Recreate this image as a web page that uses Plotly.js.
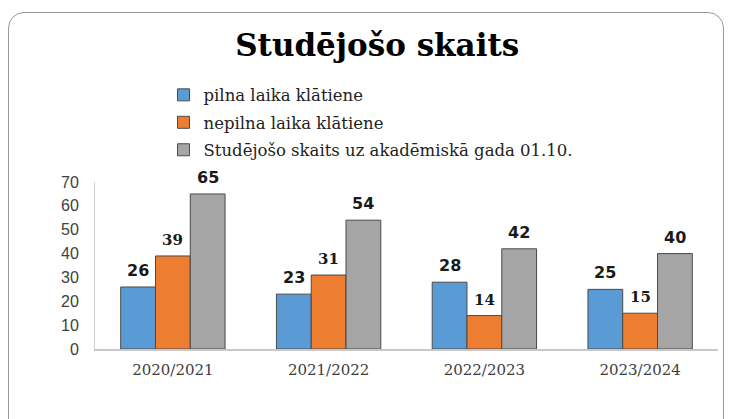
<!DOCTYPE html>
<html><head><meta charset="utf-8">
<script src="https://cdn.plot.ly/plotly-3.0.1.min.js"></script>
<style>
html,body{margin:0;padding:0;background:#fff;}
#frame{position:absolute;left:8px;top:12px;width:716px;height:440px;border:1.5px solid #9a9a9a;border-radius:16px;box-sizing:border-box;}
#chart{position:absolute;left:0;top:0;width:731px;height:419px;}
</style></head>
<body>
<div id="frame"></div>
<div id="chart"></div>
<script>
const categories = ["2020/2021","2021/2022","2022/2023","2023/2024"];
const seriesNames = ["pilna laika klātiene","nepilna laika klātiene","Studējošo skaits uz akadēmiskā gada 01.10."];
const fullTime = [26,23,28,25];
const partTime = [39,31,14,15];
const total = [65,54,42,40];
const yTicks = [0,10,20,30,40,50,60,70];

const colors = ["#5b9bd5","#ed7d31","#a5a5a5"];
const labelFonts = [
  {family:"DejaVu Sans", size:16, color:"#1a1a1a", weight:"bold"},
  {family:"DejaVu Serif", size:15, color:"#1a1a1a", weight:"bold"},
  {family:"DejaVu Sans", size:16, color:"#1a1a1a", weight:"bold"}
];
const allSeries = [fullTime, partTime, total];
const bargap = 0.33;
const barW = (1 - bargap) / 3;

const traces = allSeries.map((vals, i) => ({
  type: "bar",
  name: seriesNames[i],
  x: categories,
  y: vals,
  legendgroup: "g" + i,
  marker: {color: colors[i], line: {color: "#4a4a4a", width: 1}},
  hoverinfo: "skip"
}));

const annotations = [];
allSeries.forEach((vals, i) => {
  vals.forEach((v, j) => {
    annotations.push({
      x: j + (i - 1) * barW, y: v, xref: "x", yref: "y",
      text: "<b>" + v + "</b>", showarrow: false,
      yanchor: "bottom", yshift: 5,
      font: labelFonts[i]
    });
  });
});

const layout = {
  width: 731, height: 419,
  paper_bgcolor: "rgba(0,0,0,0)", plot_bgcolor: "rgba(0,0,0,0)",
  margin: {l: 95, r: 13, t: 182, b: 70},
  barmode: "group", bargap: bargap, bargroupgap: 0,
  title: {text: "<b>Studējošo skaits</b>", x: 0.516, xanchor: "center", y: 0.893, yanchor: "middle",
    font: {family: "DejaVu Serif", size: 31, color: "#000"}},
  showlegend: true,
  legend: {x: 0.11, xanchor: "left", y: 1.625, yanchor: "top", orientation: "v",
    font: {family: "DejaVu Serif", size: 16.5, color: "#222"},
    tracegroupgap: 3, itemwidth: 30, bgcolor: "rgba(0,0,0,0)"},
  xaxis: {type: "category", showline: true, linecolor: "#c8c8c8", linewidth: 2,
    showgrid: false, ticks: "", ticklabelstandoff: 6,
    tickfont: {family: "DejaVu Serif", size: 15, color: "#404040"}},
  yaxis: {range: [0, 70], tickvals: yTicks, showline: true, linecolor: "#d0d0d0", linewidth: 1,
    showgrid: false, zeroline: false, ticks: "", ticklabelstandoff: 12,
    tickfont: {family: "Liberation Sans", size: 16, color: "#404040"}},
  annotations: annotations
};

Plotly.newPlot("chart", traces, layout, {displayModeBar: false, staticPlot: true});
</script>
</body></html>
